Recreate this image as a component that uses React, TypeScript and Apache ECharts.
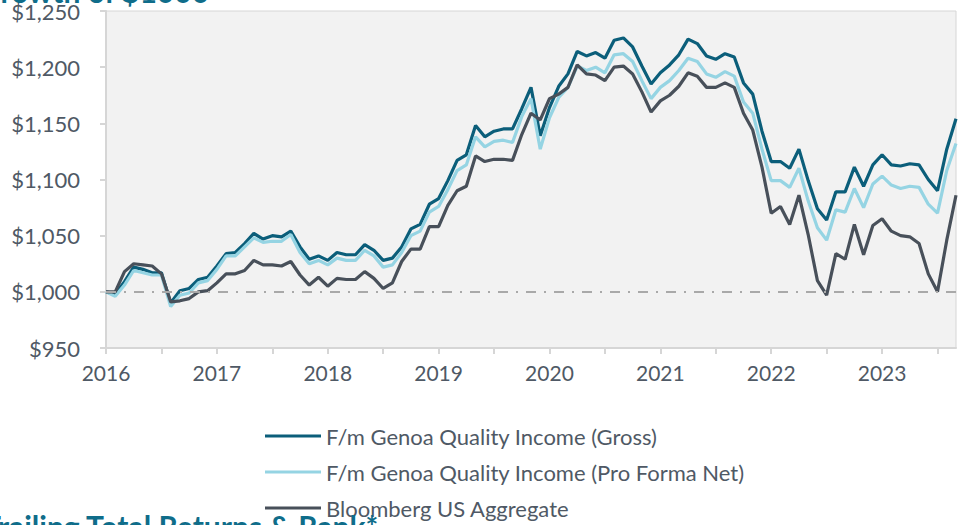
import React, { useEffect, useRef } from "react";
import * as echarts from "echarts";

const yearLabels = ["2016", "2017", "2018", "2019", "2020", "2021", "2022", "2023"];
const monthsInLastYear = 9;

const grossName = "F/m Genoa Quality Income (Gross)";
const netName = "F/m Genoa Quality Income (Pro Forma Net)";
const benchName = "Bloomberg US Aggregate";

const grossValues = [
  1000, 998, 1009, 1022, 1020, 1017, 1017, 990, 1001, 1003, 1011, 1013,
  1023, 1034, 1035, 1043, 1052, 1047, 1050, 1049, 1054, 1040, 1029, 1032,
  1028, 1035, 1033, 1033, 1042, 1037, 1028, 1030, 1040, 1056, 1060, 1078,
  1083, 1099, 1117, 1122, 1148, 1138, 1143, 1145, 1145, 1163, 1182, 1139,
  1164, 1183, 1194, 1214, 1210, 1213, 1208, 1224, 1226, 1218, 1201, 1185,
  1195, 1202, 1211, 1225, 1221, 1210, 1207, 1212, 1209, 1186, 1176, 1143,
  1116, 1116, 1110, 1127, 1099, 1074, 1064, 1089, 1089, 1111, 1094, 1113,
  1122, 1113, 1112, 1114, 1113, 1100, 1090, 1127, 1154,
];

const netValues = [
  1000, 996, 1006, 1019, 1017, 1015, 1015, 987, 997, 999, 1008, 1010,
  1020, 1032, 1032, 1040, 1048, 1044, 1045, 1045, 1051, 1035, 1025, 1028,
  1024, 1030, 1028, 1028, 1037, 1032, 1022, 1024, 1035, 1050, 1054, 1071,
  1076, 1091, 1108, 1113, 1138, 1129, 1134, 1135, 1133, 1156, 1172, 1127,
  1155, 1173, 1182, 1201, 1197, 1200, 1195, 1211, 1212, 1205, 1188, 1172,
  1182, 1188, 1197, 1208, 1205, 1194, 1191, 1196, 1192, 1169, 1159, 1127,
  1099, 1099, 1093, 1110, 1081, 1057, 1046, 1073, 1071, 1092, 1075, 1096,
  1103, 1095, 1092, 1094, 1093, 1078, 1070, 1108, 1132,
];

const benchValues = [
  1000, 1000, 1018, 1025, 1024, 1023, 1016, 991, 992, 994, 1000, 1001,
  1008, 1016, 1016, 1019, 1028, 1024, 1024, 1023, 1027, 1015, 1006, 1013,
  1005, 1012, 1011, 1011, 1018, 1012, 1003, 1008, 1027, 1038, 1038, 1058,
  1058, 1077, 1090, 1094, 1121, 1116, 1118, 1118, 1117, 1140, 1159, 1153,
  1172, 1176, 1182, 1202, 1194, 1193, 1188, 1200, 1201, 1194, 1178, 1160,
  1170, 1175, 1183, 1195, 1192, 1182, 1182, 1186, 1182, 1159, 1144, 1111,
  1070, 1076, 1060, 1086, 1051, 1010, 997, 1034, 1029, 1060, 1033, 1059,
  1065, 1054, 1050, 1049, 1043, 1016, 1000, 1046, 1086,
];

const monthLabels: string[] = [];
yearLabels.forEach((y, yi) => {
  const n = yi === yearLabels.length - 1 ? monthsInLastYear : 12;
  for (let m = 1; m <= n; m++) monthLabels.push(`${y}-${String(m).padStart(2, "0")}`);
});

const baselineValue = 1000;

const labelColor = "#4f5965";
const titleColor = "#0f6d8a";
const axisGrey = "#d6d6d6";

export default function App() {
  const ref = useRef<HTMLDivElement>(null);
  useEffect(() => {
    if (!ref.current) return;
    const chart = echarts.init(ref.current, undefined, { renderer: "svg" });
    const option: any = {
      animation: false,
      backgroundColor: "#ffffff",
      textStyle: { fontFamily: "Lato" },
      grid: {
        left: 106,
        right: 3,
        top: 5,
        bottom: 177,
        show: true,
        backgroundColor: "#f2f2f2",
        borderColor: axisGrey,
        borderWidth: 1,
      },
      xAxis: {
        type: "category",
        data: monthLabels,
        boundaryGap: false,
        axisLine: { show: true, lineStyle: { color: axisGrey, width: 2 } },
        axisTick: {
          show: true,
          interval: (i: number) => i % 6 === 0,
          length: 6,
          lineStyle: { color: axisGrey, width: 2 },
        },
        axisLabel: {
          interval: (i: number) => i % 12 === 0,
          formatter: (v: string) => v.slice(0, 4),
          color: labelColor,
          fontSize: 21,
          fontFamily: "Lato",
          margin: 14,
        },
        splitLine: { show: false },
      },
      yAxis: {
        type: "value",
        min: 950,
        max: 1250,
        interval: 50,
        axisLine: { show: true, lineStyle: { color: axisGrey, width: 2 } },
        axisTick: { show: true, length: 6, lineStyle: { color: axisGrey, width: 2 } },
        axisLabel: {
          formatter: (v: number) => "$" + v.toLocaleString("en-US"),
          color: labelColor,
          fontSize: 22,
          fontFamily: "Lato",
          margin: 26,
        },
        splitLine: { show: false },
      },
      legend: {
        orient: "vertical",
        left: 265,
        top: 425,
        height: 120,
        padding: 0,
        icon: "rect",
        itemWidth: 56,
        itemHeight: 3,
        itemGap: 14,
        textStyle: { color: labelColor, fontSize: 22, lineHeight: 22, fontFamily: "Lato" },
        data: [grossName, netName, benchName],
      },
      series: [
        {
          name: grossName,
          type: "line",
          data: grossValues,
          symbol: "none",
          lineStyle: { width: 3.2, color: "#0b5e7a" },
          itemStyle: { color: "#0b5e7a" },
          markLine: {
            silent: true,
            symbol: ["none", "none"],
            label: { show: false },
            lineStyle: { color: "#a9a9a9", width: 2, type: [10, 8, 2, 8] },
            data: [{ yAxis: baselineValue }],
          },
        },
        {
          name: netName,
          type: "line",
          data: netValues,
          symbol: "none",
          lineStyle: { width: 3.2, color: "#95d4e3" },
          itemStyle: { color: "#95d4e3" },
        },
        {
          name: benchName,
          type: "line",
          data: benchValues,
          symbol: "none",
          lineStyle: { width: 3.2, color: "#48505a" },
          itemStyle: { color: "#48505a" },
        },
      ],
      graphic: [
        {
          type: "text",
          left: -21,
          top: -24,
          z: 100,
          style: {
            text: "Growth of $1000",
            fill: titleColor,
            font: "bold 30px Lato",
          },
        },
        {
          type: "text",
          left: -17,
          top: 511,
          z: 100,
          style: {
            text: "Trailing Total Returns & Rank*",
            fill: titleColor,
            font: "bold 30px Lato",
          },
        },
      ],
    };
    chart.setOption(option);
    return () => chart.dispose();
  }, []);
  return (
    <div
      ref={ref}
      style={{ position: "fixed", left: 0, top: 0, width: 959, height: 525 }}
    />
  );
}
